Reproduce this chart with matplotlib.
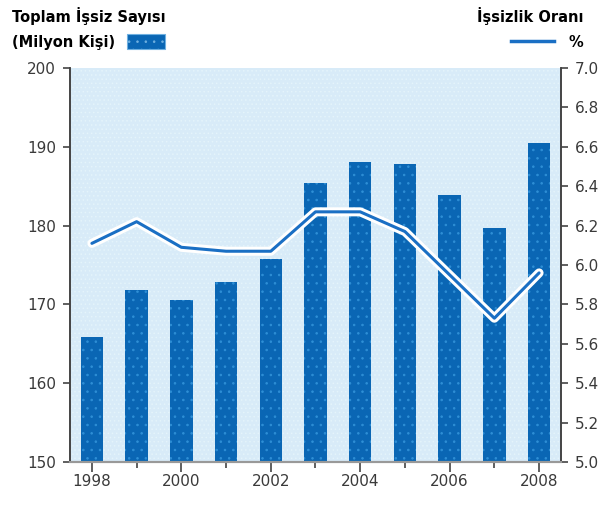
import matplotlib
matplotlib.use('Agg')
import matplotlib.pyplot as plt
import numpy as np

years = [1998, 1999, 2000, 2001, 2002, 2003, 2004, 2005, 2006, 2007, 2008]
unemployed = [165.9, 171.8, 170.6, 172.8, 175.8, 185.4, 188.1, 187.8, 183.9, 179.7, 190.5]
rate = [6.11, 6.22, 6.09, 6.07, 6.07, 6.27, 6.27, 6.17, 5.95, 5.73, 5.96]
left_ticks = [150, 160, 170, 180, 190, 200]
right_ticks = [5.0, 5.2, 5.4, 5.6, 5.8, 6.0, 6.2, 6.4, 6.6, 6.8, 7.0]

bar_blue = '#0a66b4'
line_blue = '#1a6fc4'
grey = '#444444'

plt.rcParams['hatch.linewidth'] = 0.6

fig = plt.figure(figsize=(6.08, 5.05), dpi=100)
ax = fig.add_axes([0.1151, 0.0851, 0.8076, 0.7802])
ax.set_facecolor('#d8ebf8')
ax.patch.set_hatch('....')
ax.patch.set_edgecolor('#e4f4fb')
ax.patch.set_linewidth(0)

x = np.arange(len(years))
ax.bar(x, np.array(unemployed) - 150, bottom=150, width=0.5, color=bar_blue,
       hatch='..', edgecolor='#2f8fd6', linewidth=0, zorder=2)

ax.set_xlim(-0.49, 10.49)
ax.set_ylim(150, 200)
ax.set_yticks(left_ticks)
ax.set_xticks(x)
ax.set_xticklabels([str(y) if y % 2 == 0 else '' for y in years])

ax2 = ax.twinx()
ax2.set_ylim(5.0, 7.0)
ax2.set_yticks(right_ticks)
ax2.set_yticklabels(['%.1f' % t for t in right_ticks])
ax2.plot(x, rate, color='white', lw=6.5, solid_capstyle='round', solid_joinstyle='round', zorder=3)
ax2.plot(x, rate, color=line_blue, lw=2.2, solid_capstyle='round', solid_joinstyle='round', zorder=4)

for a in (ax, ax2):
    a.spines['top'].set_visible(False)
    a.spines['left'].set_color(grey)
    a.spines['right'].set_color(grey)
    a.spines['bottom'].set_color('#999999')
    a.spines['left'].set_linewidth(1.2)
    a.spines['right'].set_linewidth(1.2)
    a.spines['bottom'].set_linewidth(1.5)
    a.tick_params(colors=grey, labelsize=11, length=5, width=1.2, labelcolor='#3a3a3a')

# longer ticks under labelled years
for i, t in enumerate(ax.xaxis.get_major_ticks()):
    if years[i] % 2 == 0:
        t.tick1line.set_markersize(7)
    else:
        t.tick1line.set_markersize(4)

ax.tick_params(axis='y', pad=5)
ax2.tick_params(axis='y', pad=5)

head = dict(fontsize=10.5, fontweight='heavy', family='Liberation Sans Narrow', va='center')
fig.text(0.02, 0.968, 'Toplam İşsiz Sayısı', ha='left', **head)
fig.text(0.02, 0.916, '(Milyon Kişi)', ha='left', **head)
fig.patches.append(plt.Rectangle((0.209, 0.903), 0.063, 0.03, transform=fig.transFigure,
                                 facecolor=bar_blue, edgecolor='#6fb0e0', lw=0.8,
                                 hatch='..'))

fig.text(0.96, 0.968, 'İşsizlik Oranı', ha='right', **head)
fig.lines.append(plt.Line2D([0.84, 0.912], [0.918, 0.918], transform=fig.transFigure,
                            color=line_blue, lw=2.5))
fig.text(0.935, 0.916, '%', ha='left', **head)

fig.savefig('out.png', dpi=100)
